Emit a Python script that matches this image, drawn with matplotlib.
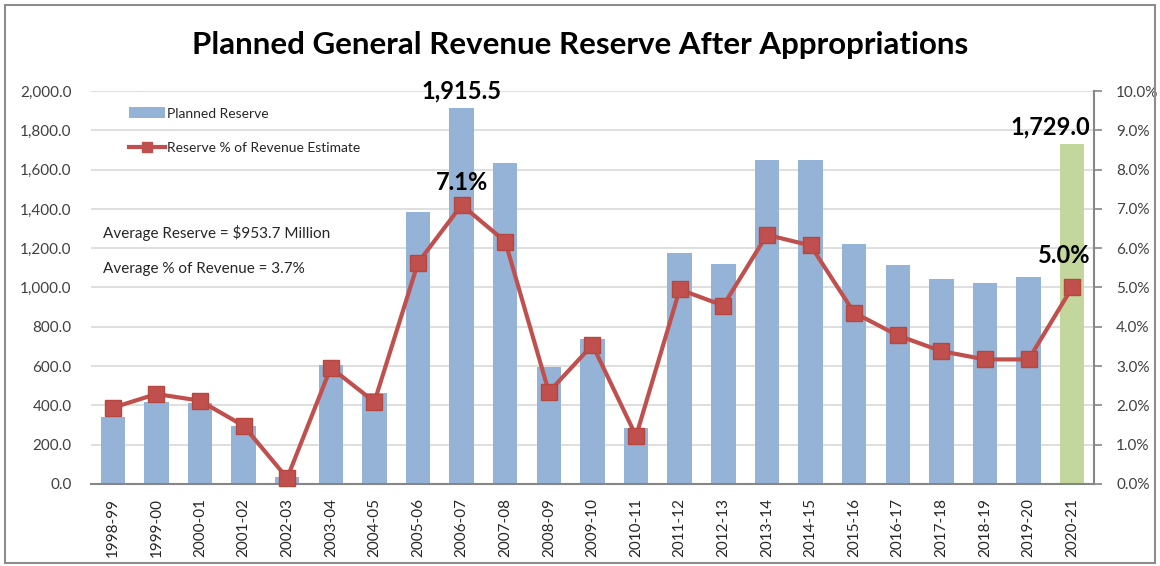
import matplotlib
matplotlib.use("Agg")
import matplotlib.pyplot as plt
from matplotlib.ticker import FuncFormatter, MultipleLocator
from matplotlib.patches import Rectangle
from matplotlib.lines import Line2D
from matplotlib.patches import Patch
import numpy as np

years = ["1998-99", "1999-00", "2000-01", "2001-02", "2002-03", "2003-04", "2004-05",
         "2005-06", "2006-07", "2007-08", "2008-09", "2009-10", "2010-11", "2011-12",
         "2012-13", "2013-14", "2014-15", "2015-16", "2016-17", "2017-18", "2018-19",
         "2019-20", "2020-21"]
reserve = [342, 416, 410, 295, 37, 605, 461, 1386, 1915.5, 1635, 597, 736, 285, 1177,
           1120, 1649, 1649, 1223, 1115, 1043, 1025, 1053, 1729.0]
pct = [1.94, 2.29, 2.12, 1.48, 0.15, 2.96, 2.09, 5.63, 7.1, 6.17, 2.34, 3.54, 1.22, 4.95,
       4.54, 6.34, 6.07, 4.36, 3.78, 3.38, 3.17, 3.17, 5.0]

title = "Planned General Revenue Reserve After Appropriations"
avg_text1 = "Average Reserve = $953.7 Million"
avg_text2 = "Average % of Revenue = 3.7%"

FONT = "Lato"
plt.rcParams["font.family"] = [FONT, "DejaVu Sans"]

fig = plt.figure(figsize=(11.6, 5.66), dpi=100)
fig.patch.set_facecolor("white")
fig.add_artist(Rectangle((0.004, 0.006), 0.992, 0.986, transform=fig.transFigure,
                         fill=False, edgecolor="#8c8c8c", linewidth=1.5))

ax = fig.add_axes([0.0784, 0.1449, 0.9431 - 0.0784, 0.8392 - 0.1449])
x = np.arange(len(years))
colors = ["#95B3D7"] * (len(years) - 1) + ["#C3D69B"]
ax.bar(x, reserve, width=0.56, color=colors, zorder=2)
ax.set_xlim(-0.5, len(years) - 0.5)
ax.set_ylim(0, 2000)
ax.yaxis.set_major_locator(MultipleLocator(200))
ax.yaxis.set_major_formatter(FuncFormatter(lambda v, p: f"{v:,.1f}"))
ax.grid(axis="y", color="#D9D9D9", linewidth=1.2, zorder=0)
ax.set_axisbelow(True)
ax.set_xticks(x)
ax.set_xticklabels(years, rotation=90, fontsize=11, color="#262626")
ax.tick_params(axis="x", length=0, pad=10)
ax.tick_params(axis="y", length=0, pad=14, labelsize=11, labelcolor="#404040")
for s in ["top", "right", "left"]:
    ax.spines[s].set_visible(False)
ax.spines["bottom"].set_color("#868686")
ax.spines["bottom"].set_linewidth(1.5)
ax.spines["bottom"].set_zorder(5)

ax2 = ax.twinx()
ax2.plot(x, pct, color="#C0504D", linewidth=3, marker="s", markersize=11,
         markerfacecolor="#C0504D", markeredgecolor="#B5473F", zorder=4, clip_on=False)
ax2.set_ylim(0, 10)
ax2.yaxis.set_major_locator(MultipleLocator(1))
ax2.yaxis.set_major_formatter(FuncFormatter(lambda v, p: f"{v:.1f}%"))
ax2.tick_params(axis="y", length=6, width=1.2, color="#868686", pad=10,
                labelsize=11, labelcolor="#404040")
for s in ["top", "left", "bottom"]:
    ax2.spines[s].set_visible(False)
ax2.spines["right"].set_color("#868686")
ax2.spines["right"].set_linewidth(1.5)

# annotations
i_max = years.index("2006-07")
ax.annotate(f"{reserve[i_max]:,.1f}", (x[i_max], reserve[i_max]), xytext=(0, 4),
            textcoords="offset points", ha="center", va="bottom", fontsize=17,
            fontweight="bold", color="black")
ax2.annotate(f"{pct[i_max]:.1f}%", (x[i_max], pct[i_max]), xytext=(0, 8),
             textcoords="offset points", ha="center", va="bottom", fontsize=17,
             fontweight="bold", color="black")
i_last = len(years) - 1
ax.annotate(f"{reserve[i_last]:,.1f}", (x[i_last], reserve[i_last]), xytext=(-16, 4),
            textcoords="offset points", ha="center", va="bottom", fontsize=17,
            fontweight="bold", color="black")
ax2.annotate(f"{pct[i_last]:.1f}%", (x[i_last], pct[i_last]), xytext=(-6, 15),
             textcoords="offset points", ha="center", va="bottom", fontsize=17,
             fontweight="bold", color="black")

handles = [Patch(facecolor="#95B3D7", edgecolor="none"),
           Line2D([0], [0], color="#C0504D", linewidth=3, marker="s", markersize=7)]
leg = ax.legend(handles, ["Planned Reserve", "Reserve % of Revenue Estimate"],
                loc="upper left", bbox_to_anchor=(0.025, 0.99), frameon=False,
                fontsize=10, labelspacing=1.6, handlelength=2.6, handletextpad=0.15,
                handleheight=0.8)
for t in leg.get_texts():
    t.set_color("#262626")

fig.text(103 / 1160, 1 - 233 / 566, avg_text1, fontsize=11, color="#262626", va="center")
fig.text(103 / 1160, 1 - 269 / 566, avg_text2, fontsize=11, color="#262626", va="center")

fig.text(0.5, 1 - 45 / 566, title, fontsize=22.5, fontweight="bold", ha="center",
         va="center", color="black")

fig.savefig("out.png", dpi=100, facecolor="white")
